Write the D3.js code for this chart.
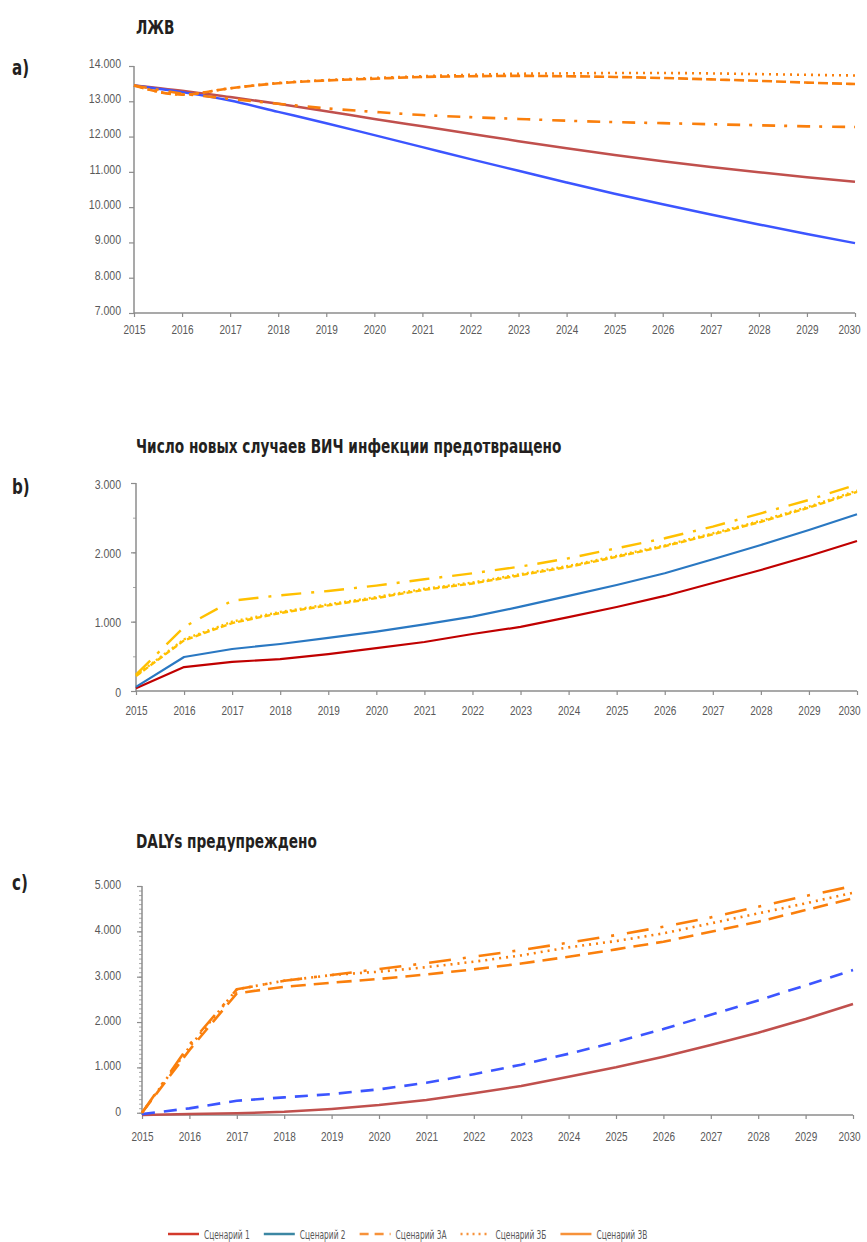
<!DOCTYPE html>
<html><head><meta charset="utf-8">
<script src="https://cdn.jsdelivr.net/npm/d3@7"></script>
<style>
html,body{margin:0;padding:0;background:#fff;}
svg{display:block;font-family:"Liberation Sans Narrow","DejaVu Sans Condensed","DejaVu Sans",sans-serif;}
</style></head>
<body>
<svg id="chart" width="867" height="1242"></svg>
<script>
// ---------- DATA ----------
const years = [2015,2016,2017,2018,2019,2020,2021,2022,2023,2024,2025,2026,2027,2028,2029,2030];
const seriesNames = ["Сценарий 1","Сценарий 2","Сценарий 3А","Сценарий 3Б","Сценарий 3В"];

// a) ЛЖВ
const titleA = "ЛЖВ";
const a_s1  = [13450,13300,13120,12930,12720,12500,12290,12080,11870,11670,11480,11300,11140,10990,10850,10720];
const a_s2  = [13450,13260,13020,12700,12380,12040,11700,11360,11030,10700,10380,10080,9790,9510,9240,8980];
const a_s3a = [13450,13190,13370,13510,13590,13640,13690,13710,13720,13710,13690,13660,13620,13580,13530,13490];
const a_s3b = [13450,13190,13370,13520,13600,13660,13710,13750,13780,13790,13800,13800,13790,13770,13750,13730];
const a_s3v = [13450,13220,13070,12930,12800,12700,12610,12550,12500,12450,12410,12380,12350,12320,12290,12270];
const a_yTicks = [7000,8000,9000,10000,11000,12000,13000,14000];

// b) new HIV infections averted
const titleB = "Число новых случаев ВИЧ инфекции предотвращено";
const b_s1  = [40,345,420,460,532,618,707,822,924,1066,1212,1371,1558,1746,1948,2164];
const b_s2  = [60,490,606,678,765,856,960,1072,1216,1371,1529,1698,1900,2106,2323,2549];
const b_s3a = [215,730,980,1125,1235,1340,1460,1550,1670,1790,1935,2088,2260,2440,2645,2872];
const b_s3b = [225,745,1000,1140,1250,1355,1475,1565,1685,1805,1950,2100,2275,2455,2660,2890];
const b_s3v = [235,923,1303,1380,1443,1520,1611,1698,1794,1914,2058,2203,2371,2563,2756,2980];
const b_yTicks = [0,1000,2000,3000];

// c) DALYs averted
const titleC = "DALYs предупреждено";
const c_s1  = [-50,-30,-10,20,85,170,280,428,589,794,1001,1235,1493,1764,2066,2397];
const c_s2  = [-30,96,265,339,412,516,660,850,1060,1300,1560,1845,2160,2475,2810,3147];
const c_s3a = [0,1380,2633,2778,2867,2950,3050,3160,3290,3440,3603,3771,3991,4212,4470,4727];
const c_s3b = [0,1450,2721,2911,3036,3110,3210,3330,3470,3647,3786,3955,4176,4396,4617,4851];
const c_s3v = [0,1500,2721,2911,3036,3170,3300,3440,3588,3749,3918,4101,4308,4543,4779,5000];
const c_yTicks = [0,1000,2000,3000,4000,5000];

// ---------- STYLES ----------
const ORANGE = "#fa7f0c", BLUE = "#3c55ff", BROWNRED = "#c0504d";
const YELLOW = "#ffc000", RED = "#c00000", MIDBLUE = "#2a78c2";
const AXIS = "#8c8c8c", TXT = "#595959", DARK = "#231f20";

const fmt = d3.formatLocale({decimal:",", thousands:".", grouping:[3], currency:["",""]}).format(",");

const svg = d3.select("#chart");

// horizontally condense a text element (font is wider than the reference's condensed face)
function condense(sel, f) {
  sel.each(function() {
    const w = this.getComputedTextLength();
    this.setAttribute("textLength", (w * f).toFixed(2));
    this.setAttribute("lengthAdjust", "spacingAndGlyphs");
  });
}

const panels = [
  {label:"a)", title:titleA, titleY:34, labelY:75,
   x:[134,855], y:[313,66], ydom:[7000,14000], yTicks:a_yTicks, minor:null, ylabDy:-3, xlabDy:21,
   curve:d3.curveMonotoneX,
   lines:[
     {v:a_s1, c:BROWNRED, d:null, w:2.5},
     {v:a_s2, c:BLUE, d:null, w:2.5},
     {v:a_s3v, c:ORANGE, d:"13,9,3,10", w:2.6},
     {v:a_s3a, c:ORANGE, d:"10,4", w:2.6},
     {v:a_s3b, c:ORANGE, d:"2,5", w:2.6}
   ]},
  {label:"b)", title:titleB, titleY:453, labelY:494,
   x:[136,857], y:[691,483], ydom:[0,3000], yTicks:b_yTicks, minor:500, ylabDy:1, xlabDy:24,
   curve:d3.curveLinear,
   lines:[
     {v:b_s1, c:RED, d:null, w:2.2},
     {v:b_s2, c:MIDBLUE, d:null, w:2.2},
     {v:b_s3a, c:YELLOW, d:"6,3", w:2.4},
     {v:b_s3b, c:YELLOW, d:"2,3", w:2.4},
     {v:b_s3v, c:YELLOW, d:"20,10,3,10", w:2.4}
   ]},
  {label:"c)", title:titleC, titleY:848, labelY:890,
   x:[142,853], y:[1115,886], ydom:[-50,5000], yTicks:c_yTicks, minor:100, ylabDy:-2, xlabDy:26,
   curve:d3.curveLinear,
   lines:[
     {v:c_s1, c:BROWNRED, d:null, w:2.5},
     {v:c_s2, c:BLUE, d:"13,9", w:2.6},
     {v:c_s3a, c:ORANGE, d:"15,8", w:2.6},
     {v:c_s3b, c:ORANGE, d:"2,5", w:2.6},
     {v:c_s3v, c:ORANGE, d:"22,12,3,13", w:2.6}
   ]}
];

panels.forEach(p => {
  const x = d3.scaleLinear().domain([years[0], years[years.length-1]]).range(p.x);
  const y = d3.scaleLinear().domain(p.ydom).range(p.y);
  const g = svg.append("g");

  // panel letter and title
  g.append("text").attr("x", 12).attr("y", p.labelY)
    .attr("font-size", 21).attr("font-weight", "bold").attr("fill", DARK).text(p.label)
    .call(condense, 0.8);
  g.append("text").attr("x", 136).attr("y", p.titleY)
    .attr("font-size", 19).attr("font-weight", "bold").attr("fill", DARK).text(p.title)
    .call(condense, 0.8);

  // minor ticks
  if (p.minor) {
    const mt = d3.range(Math.ceil(p.ydom[0]/p.minor)*p.minor, p.ydom[1]+1, p.minor);
    g.append("g").attr("transform", `translate(${p.x[0]},0)`)
      .call(d3.axisLeft(y).tickValues(mt).tickSize(3).tickFormat(""))
      .call(s => s.select(".domain").remove())
      .call(s => s.selectAll("line").attr("stroke", "#a6a6a6").attr("stroke-width", 1));
  }

  // y axis
  const ya = g.append("g").attr("transform", `translate(${p.x[0]},0)`)
    .call(d3.axisLeft(y).tickValues(p.yTicks).tickSize(5).tickPadding(p.x[0] - 121 - 5).tickFormat(fmt));
  ya.select(".domain").attr("stroke", AXIS).attr("stroke-width", 1.5)
    .attr("d", `M0,${p.y[0]}V${p.y[1]}`);
  ya.selectAll(".tick line").attr("stroke", AXIS).attr("stroke-width", 1.2);
  ya.selectAll(".tick text").attr("fill", TXT).attr("font-size", 13.5)
    .attr("font-family", null).attr("dy", (0.32 + p.ylabDy/13.5) + "em")
    .call(condense, 0.78);

  // x axis
  const xa = g.append("g").attr("transform", `translate(0,${p.y[0]})`)
    .call(d3.axisBottom(x).tickValues(years).tickSize(4).tickPadding(p.xlabDy - 14).tickFormat(d3.format("d")));
  xa.select(".domain").attr("stroke", AXIS).attr("stroke-width", 1.5)
    .attr("d", `M${p.x[0]},0H${p.x[1]}`);
  xa.selectAll(".tick line").attr("stroke", AXIS).attr("stroke-width", 1.2);
  xa.selectAll(".tick text").attr("fill", TXT).attr("font-size", 13.5).attr("font-family", null)
    .attr("dx", d => d === years[years.length-1] ? (849 - p.x[1]) : 0)
    .call(condense, 0.74);

  // lines
  const line = d3.line().x((d,i) => x(years[i])).y(d => y(d)).curve(p.curve);
  p.lines.forEach(l => {
    g.append("path").datum(l.v).attr("d", line)
      .attr("fill", "none").attr("stroke", l.c).attr("stroke-width", l.w)
      .attr("stroke-dasharray", l.d).attr("stroke-linejoin", "round");
  });
});

// ---------- LEGEND ----------
const legendStyles = [
  {c:"#d33a2c", d:null},
  {c:"#3c87a3", d:null},
  {c:"#f7923a", d:"9,6"},
  {c:"#f7923a", d:"2,4"},
  {c:"#f7923a", d:null}
];
const lg = svg.append("g").attr("transform", "translate(0,1234)");
let cx = 168;
seriesNames.forEach((name, i) => {
  const st = legendStyles[i];
  const len = i === 3 ? 26 : 31;
  const gap = i === 3 ? 9 : 5;
  lg.append("line").attr("x1", cx).attr("x2", cx + len).attr("y1", 0).attr("y2", 0)
    .attr("stroke", st.c).attr("stroke-width", 2.5).attr("stroke-dasharray", st.d);
  const t = lg.append("text").attr("x", cx + len + gap).attr("y", 4.5)
    .attr("font-size", 12).attr("fill", TXT).text(name);
  const w = t.node().getComputedTextLength() * 0.69;
  t.call(condense, 0.69);
  cx = cx + len + gap + w + 14;
});
</script>
</body></html>
